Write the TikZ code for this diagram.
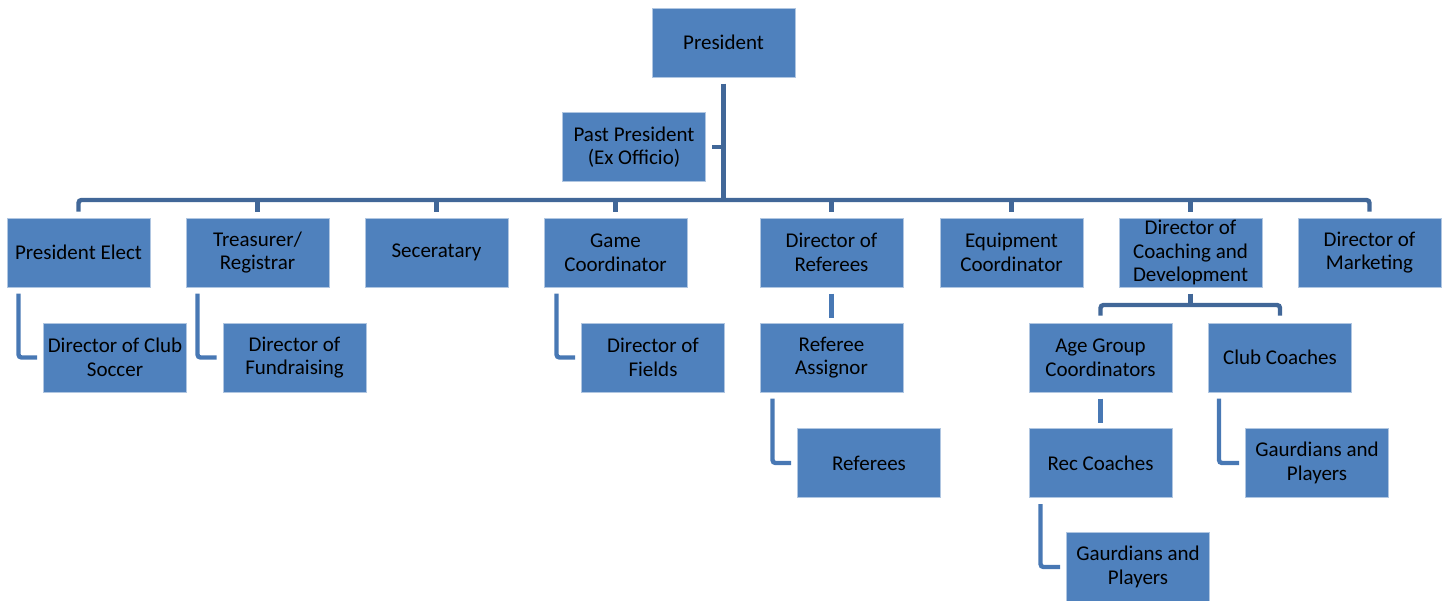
\documentclass[tikz,border=0pt]{standalone}
\usepackage{fontspec}
\setmainfont{Carlito}
\usepackage{tikz}
\usetikzlibrary{positioning,calc}
\usepackage{xcolor}
\definecolor{boxblue}{RGB}{79,129,189}
\definecolor{busblue}{RGB}{65,103,152}
\definecolor{elbowblue}{RGB}{72,120,180}

\begin{document}
\begin{tikzpicture}[x=0.5pt,y=-0.5pt,
    box/.style={fill=boxblue,draw=white!55!boxblue,line width=0.5pt,minimum width=71.5pt,minimum height=34.5pt,
        inner xsep=1pt,inner ysep=0pt,align=center,font=\fontsize{10.5}{11.8}\selectfont},
    bus/.style={draw=busblue,line width=2.2pt,rounded corners=1.5pt},
    elbow/.style={draw=elbowblue,line width=2.2pt,rounded corners=1.5pt}]

        \useasboundingbox (0,0) rectangle (1445,600);

        \node[box] (pres) at (723.5,42.5) {President};
        \node[box] (pp) at (634,147) {Past President\\(Ex Officio)};

        \node[box] (pe) at (78.5,252.5) {President Elect};
        \node[box] (tr) at (257.5,252.5) {Treasurer/\\Registrar};
        \node[box] (sec) at (436.5,252.5) {Seceratary};
        \node[box] (gc) at (615.5,252.5) {Game\\Coordinator};
        \node[box] (dr) at (831.5,252.5) {Director of\\Referees};
        \node[box] (eq) at (1011.5,252.5) {Equipment\\Coordinator};
        \node[box] (dc) at (1190.5,252.5) {Director of\\Coaching and\\Development};
        \node[box] (dm) at (1369.5,252.5) {Director of\\Marketing};

        \node[box] (dcs) at (115,357.5) {Director of Club\\Soccer};
        \node[box] (dfr) at (294.5,357.5) {Director of\\Fundraising};
        \node[box] (dfl) at (653,357.5) {Director of\\Fields};
        \node[box] (ra) at (831.5,357.5) {Referee\\Assignor};
        \node[box] (ag) at (1100.5,357.5) {Age Group\\Coordinators};
        \node[box] (cc) at (1280,357.5) {Club Coaches};

        \node[box] (ref) at (869,463) {Referees};
        \node[box] (rc) at (1100.5,463) {Rec Coaches};
        \node[box] (gpc) at (1317,463) {Gaurdians and\\Players};
        \node[box] (gpr) at (1138,567) {Gaurdians and\\Players};

        \coordinate (bus) at (723.5,200);
        \coordinate (cbus) at (1190.5,305);

        % main bus
        \draw[bus] ([yshift=-3pt]pres.south) -- (bus);
        \draw[bus] ([xshift=3pt]pp.east) -- (pp.east -| bus);
        \draw[bus] ([yshift=3pt]pe.north) |- (bus) -| ([yshift=3pt]dm.north);
        \draw[bus] ([yshift=3pt]tr.north) -- (tr.north |- bus);
        \draw[bus] ([yshift=3pt]sec.north) -- (sec.north |- bus);
        \draw[bus] ([yshift=3pt]gc.north) -- (gc.north |- bus);
        \draw[bus] ([yshift=3pt]dr.north) -- (dr.north |- bus);
        \draw[bus] ([yshift=3pt]eq.north) -- (eq.north |- bus);
        \draw[bus] ([yshift=3pt]dc.north) -- (dc.north |- bus);

        % coaching
        \draw[bus] ([yshift=-3pt]dc.south) -- (cbus);
        \draw[bus] ([yshift=3.5pt]ag.north) |- (cbus) -| ([yshift=3.5pt]cc.north);

        % elbows
        \draw[elbow] ([xshift=6pt,yshift=-3pt]pe.south west) |- ([xshift=-3pt]dcs.west);
        \draw[elbow] ([xshift=6pt,yshift=-3pt]tr.south west) |- ([xshift=-3pt]dfr.west);
        \draw[elbow] ([xshift=6.5pt,yshift=-3pt]gc.south west) |- ([xshift=-3pt]dfl.west);
        \draw[elbow] ([xshift=6.5pt,yshift=-3pt]ra.south west) |- ([xshift=-3pt]ref.west);
        \draw[elbow] ([xshift=6pt,yshift=-3pt]rc.south west) |- ([xshift=-3pt]gpr.west);
        \draw[elbow] ([xshift=5.5pt,yshift=-3pt]cc.south west) |- ([xshift=-3pt]gpc.west);
        \draw[elbow] ([yshift=-3pt]dr.south) -- ([yshift=2.5pt]ra.north);
        \draw[elbow] ([yshift=-3pt]ag.south) -- ([yshift=2.5pt]rc.north);
    \end{tikzpicture}
\end{document}
